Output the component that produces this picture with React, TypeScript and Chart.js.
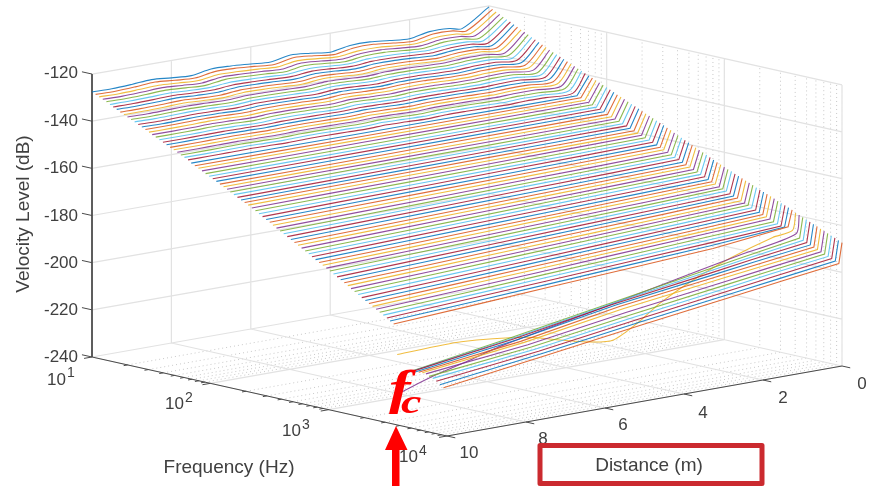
import React, { useEffect, useRef } from "react";
import Chart from "chart.js/auto";

const WIDTH = 871;
const HEIGHT = 486;

const LEVEL_TICKS = [-120, -140, -160, -180, -200, -220, -240];
const DISTANCE_TICKS = [0, 2, 4, 6, 8, 10];
const FREQ_DECADES = [1, 2, 3, 4];
const MINOR_FACTORS = [2, 3, 4, 5, 6, 7, 8, 9];
const COLORS = ["#0072BDd9", "#D95319d9", "#EDB120d9", "#7E2F8Ed9", "#77AC30d9", "#4DBEEEd9", "#A2142Fd9"];
const CURVE_COUNT = 100;

// Distance where each curve starts, at the far side (m)
const FAR_DISTANCE = [
  10,10,10,10,10,10,10.01,10.01,10.01,10.01,10.01,10.01,10.01,10.01,10.01,10.01,10.01,10.02,10.02,10.02,
  10.02,10.02,10.02,10.02,10.02,10.02,10.02,10.02,10.03,10.03,10.03,10.03,10.03,10.03,10.03,10.03,10.03,10.03,10.03,10.04,
  10.04,10.04,10.04,10.04,10.04,10.04,10.04,10.04,10.04,10.04,10.04,10.05,10.05,10.05,10.05,10.05,10.05,10.05,10.05,10.05,
  10.05,10.05,10.06,10.06,10.06,10.06,10.06,10.06,10.06,10.06,10.06,10.06,10.06,10.07,10.07,10.07,10.07,10.07,10.07,10.07,
  10.07,10.07,10.07,10.07,10.08,10.08,10.08,10.08,10.08,10.08,10.08,10.08,10.08,10.08,10.08,10.09,10.09,10.09,10.09,10.09,
];
// Distance where the near-field rise starts (m)
const KNEE_DISTANCE = [
  .68,.66,.64,.62,.6,.59,.57,.55,.53,.52,.5,.49,.48,.46,.45,.44,.43,.41,.4,.39,
  .38,.37,.36,.35,.34,.33,.32,.31,.3,.29,.28,.27,.27,.26,.26,.25,.25,.24,.24,.23,
  .23,.22,.22,.21,.21,.2,.2,.19,.19,.18,.18,.18,.17,.17,.17,.16,.16,.16,.15,.15,
  .15,.15,.14,.14,.14,.14,.13,.13,.13,.13,.13,.12,.12,.12,.12,.12,.11,.11,.11,.11,
  .11,.11,.1,.1,.1,.1,.08,.08,.08,.08,.08,.08,.08,.08,.08,.08,.08,.08,.08,.08,
];
const KNEE_LEVEL = [
  -127.7,-128.4,-129.2,-129.9,-130.7,-131.4,-132.2,-132.9,-133.7,-134.4,-135.2,-135.9,-136.7,-137.4,-138.2,-138.9,-139.7,-140.4,-141.2,-141.8,
  -142.5,-143.1,-143.8,-144.5,-145.1,-145.8,-146.4,-147.1,-147.9,-148.5,-149.2,-149.8,-150.5,-151.2,-151.8,-152.5,-153.3,-154,-154.6,-155.3,
  -156,-156.6,-157.3,-158,-158.7,-159.3,-160,-160.7,-161.3,-162.1,-162.8,-163.5,-164.3,-165,-165.7,-166.4,-167.2,-167.9,-168.6,-169.3,
  -170,-170.7,-171.4,-172.2,-172.9,-173.5,-174.3,-174.9,-175.5,-176.3,-176.9,-177.5,-178.3,-178.9,-179.5,-180.3,-180.9,-181.5,-182.2,-182.8,
  -183.4,-184.2,-184.8,-185.4,-185.5,-185,-186.3,-187.4,-188.9,-189.5,-190.1,-190.8,-191.4,-192.1,-192.7,-193.3,-194,-194.6,-195.3,-196,
];
// Level at distance 0
const TIP_LEVEL = [
  -120.4,-121.1,-121.9,-122.6,-123.4,-124.1,-124.8,-125.6,-126.3,-127.1,-127.8,-128.5,-129.3,-130,-130.8,-131.5,-132.2,-133,-133.7,-134.3,
  -135,-135.6,-136.3,-137,-137.6,-138.3,-138.9,-139.6,-140.3,-140.9,-141.6,-142.2,-142.9,-143.6,-144.2,-144.9,-145.6,-146.3,-146.9,-147.6,
  -148.3,-148.9,-149.6,-150.3,-151,-151.6,-152.3,-153,-153.6,-154.3,-155,-155.7,-156.5,-157.2,-157.9,-158.6,-159.3,-160,-160.7,-161.4,
  -162.1,-162.8,-163.5,-164.3,-165,-165.6,-166.3,-166.9,-167.5,-168.2,-168.8,-169.4,-170.1,-170.7,-171.3,-172,-172.6,-173.2,-173.8,-174.4,
  -175,-175.7,-176.3,-176.9,-177.5,-178.1,-179.1,-179.6,-180.3,-180.9,-181.5,-182.2,-182.8,-183.5,-184.1,-184.7,-185.4,-186,-186.7,-187.3,
];

// Curves 0-27: levels along these distances (first one replaced by FAR_DISTANCE)
const RIPPLE_DISTANCES = [10,9.5,9,8.5,8,7.5,7,6.5,6,5.5,5,4.5,4,3.5,3,2.5,2,1.5,1];
const RIPPLE_LEVELS = [
  [-127.6,-127.7,-127.3,-126.7,-127.4,-127.9,-126.5,-126.7,-127.3,-127.9,-126.4,-127.1,-128.1,-126.7,-126.6,-127.5,-128.2,-126.6,-126.7],
  [-128.3,-128.4,-128,-127.4,-128.1,-128.6,-127.3,-127.4,-128,-128.6,-127.1,-127.8,-128.8,-127.4,-127.3,-128.2,-128.9,-127.3,-127.4],
  [-129,-129.1,-128.8,-128.4,-128.9,-129.3,-128.2,-128.4,-128.8,-129.3,-128.1,-128.7,-129.4,-128.4,-128.3,-129,-129.5,-128.3,-128.4],
  [-129.7,-129.8,-129.5,-129.1,-129.6,-130,-128.9,-129.1,-129.5,-130,-128.8,-129.4,-130.1,-129.1,-129,-129.7,-130.2,-129,-129.1],
  [-130.4,-130.5,-130.2,-129.8,-130.3,-130.7,-129.6,-129.8,-130.2,-130.7,-129.5,-130.1,-130.8,-129.8,-129.7,-130.4,-130.9,-129.7,-129.8],
  [-131.2,-131.2,-131,-130.7,-131.1,-131.3,-130.6,-130.7,-131,-131.3,-130.5,-130.9,-131.4,-130.7,-130.7,-131.1,-131.5,-130.7,-130.7],
  [-131.9,-131.9,-131.7,-131.4,-131.8,-132,-131.3,-131.4,-131.7,-132,-131.2,-131.6,-132.1,-131.4,-131.4,-131.8,-132.2,-131.4,-131.4],
  [-132.6,-132.6,-132.4,-132.1,-132.5,-132.7,-132,-132.1,-132.4,-132.7,-131.9,-132.3,-132.8,-132.1,-132.1,-132.5,-132.9,-132.1,-132.1],
  [-133.4,-133.4,-133.2,-132.9,-133.3,-133.5,-132.8,-132.9,-133.2,-133.5,-132.7,-133.1,-133.6,-132.9,-132.9,-133.3,-133.7,-132.9,-132.9],
  [-134.1,-134.1,-133.9,-133.6,-134,-134.2,-133.5,-133.6,-133.9,-134.2,-133.4,-133.8,-134.3,-133.6,-133.6,-134,-134.4,-133.6,-133.6],
  [-134.8,-134.9,-134.7,-134.5,-134.7,-134.9,-134.4,-134.5,-134.7,-134.9,-134.3,-134.6,-135,-134.5,-134.5,-134.8,-135,-134.5,-134.5],
  [-135.5,-135.6,-135.4,-135.2,-135.4,-135.6,-135.1,-135.2,-135.4,-135.6,-135,-135.3,-135.7,-135.2,-135.2,-135.5,-135.7,-135.2,-135.2],
  [-136.2,-136.3,-136.1,-135.9,-136.1,-136.3,-135.8,-135.9,-136.1,-136.3,-135.7,-136,-136.4,-135.9,-135.9,-136.2,-136.4,-135.9,-135.9],
  [-137,-137.1,-136.9,-136.7,-136.9,-137.1,-136.6,-136.7,-136.9,-137.1,-136.5,-136.8,-137.2,-136.7,-136.7,-137,-137.2,-136.7,-136.7],
  [-137.7,-137.8,-137.6,-137.4,-137.6,-137.8,-137.3,-137.4,-137.6,-137.8,-137.2,-137.5,-137.9,-137.4,-137.4,-137.7,-137.9,-137.4,-137.4],
  [-138.4,-138.4,-138.3,-138.1,-138.3,-138.5,-138.1,-138.1,-138.3,-138.5,-138,-138.3,-138.5,-138.1,-138.1,-138.4,-138.5,-138.1,-138.1],
  [-139.2,-139.2,-139.1,-138.9,-139.1,-139.3,-138.9,-138.9,-139.1,-139.3,-138.8,-139.1,-139.3,-138.9,-138.9,-139.2,-139.3,-138.9,-138.9],
  [-139.9,-139.9,-139.8,-139.6,-139.8,-140,-139.6,-139.6,-139.8,-140,-139.5,-139.8,-140,-139.6,-139.6,-139.9,-140,-139.6,-139.6],
  [-140.6,-140.6,-140.5,-140.3,-140.5,-140.7,-140.3,-140.3,-140.5,-140.7,-140.2,-140.5,-140.7,-140.3,-140.3,-140.6,-140.7,-140.3,-140.3],
  [-141.4,-141.4,-141.3,-141.1,-141.3,-141.5,-141.1,-141.1,-141.3,-141.5,-141,-141.3,-141.5,-141.1,-141.1,-141.4,-141.5,-141.1,-141.1],
  [-142.1,-142.1,-142,-141.9,-142,-142.1,-141.9,-141.9,-142,-142.1,-141.8,-142,-142.2,-141.9,-141.9,-142,-142.2,-141.9,-141.9],
  [-142.8,-142.8,-142.7,-142.6,-142.7,-142.8,-142.6,-142.6,-142.7,-142.8,-142.5,-142.7,-142.9,-142.6,-142.6,-142.7,-142.9,-142.6,-142.6],
  [-143.6,-143.6,-143.5,-143.4,-143.5,-143.6,-143.4,-143.4,-143.5,-143.6,-143.3,-143.5,-143.7,-143.4,-143.4,-143.5,-143.7,-143.4,-143.4],
  [-144.3,-144.3,-144.2,-144.1,-144.2,-144.3,-144.1,-144.1,-144.2,-144.3,-144,-144.2,-144.4,-144.1,-144.1,-144.2,-144.4,-144.1,-144.1],
  [-145,-145,-144.9,-144.8,-144.9,-145,-144.8,-144.8,-144.9,-145,-144.7,-144.9,-145.1,-144.8,-144.8,-144.9,-145.1,-144.8,-144.8],
  [-145.8,-145.8,-145.7,-145.6,-145.7,-145.8,-145.6,-145.6,-145.7,-145.8,-145.5,-145.7,-145.9,-145.6,-145.6,-145.7,-145.9,-145.6,-145.6],
  [-146.5,-146.5,-146.4,-146.3,-146.4,-146.5,-146.3,-146.3,-146.4,-146.5,-146.2,-146.4,-146.6,-146.3,-146.3,-146.4,-146.6,-146.3,-146.3],
  [-147.2,-147.2,-147.1,-147,-147.1,-147.2,-147,-147,-147.1,-147.2,-146.9,-147.1,-147.3,-147,-147,-147.1,-147.3,-147,-147],
];

// Curves 28-85: levels at far wall, 8, 6, 4, 2 m
const PLAIN_DISTANCES = [10, 8, 6, 4, 2];
const PLAIN_LEVELS = [
  [-148.2,-148.1,-148.1,-148,-148],[-149,-148.9,-148.8,-148.7,-148.6],[-149.7,-149.6,-149.5,-149.4,-149.3],[-150.5,-150.4,-150.2,-150.1,-149.9],
  [-151.3,-151.1,-151,-150.8,-150.7],[-152.1,-151.9,-151.7,-151.6,-151.4],[-152.8,-152.6,-152.4,-152.2,-152],[-153.6,-153.4,-153.2,-153,-152.7],
  [-154.4,-154.2,-154,-153.7,-153.5],[-155.2,-154.9,-154.7,-154.5,-154.2],[-155.9,-155.6,-155.4,-155.1,-154.9],[-156.7,-156.4,-156.1,-155.9,-155.6],
  [-157.5,-157.2,-156.9,-156.6,-156.3],[-158.3,-158,-157.6,-157.3,-156.9],[-159.1,-158.7,-158.4,-158,-157.7],[-159.8,-159.4,-159.1,-158.7,-158.4],
  [-160.6,-160.2,-159.8,-159.5,-159.1],[-161.5,-161,-160.6,-160.2,-159.7],[-162.3,-161.8,-161.4,-160.9,-160.5],[-163.2,-162.7,-162.2,-161.7,-161.2],
  [-164.1,-163.5,-163,-162.4,-161.9],[-165,-164.4,-163.8,-163.3,-162.7],[-165.8,-165.2,-164.6,-164,-163.4],[-166.7,-166.1,-165.4,-164.8,-164.1],
  [-167.6,-166.9,-166.3,-165.6,-165],[-168.5,-167.8,-167.1,-166.4,-165.7],[-169.3,-168.6,-167.9,-167.1,-166.4],[-170.2,-169.4,-168.7,-167.9,-167.2],
  [-171.1,-170.3,-169.5,-168.8,-168],[-172,-171.2,-170.4,-169.5,-168.7],[-172.8,-172,-171.1,-170.3,-169.4],[-173.7,-172.8,-171.9,-171.1,-170.2],
  [-174.6,-173.7,-172.8,-171.8,-170.9],[-175.4,-174.5,-173.5,-172.6,-171.6],[-176.3,-175.3,-174.3,-173.4,-172.4],[-177.2,-176.2,-175.2,-174.2,-173.2],
  [-178.1,-177.1,-176,-175,-173.9],[-178.9,-177.9,-176.8,-175.6,-174.6],[-179.8,-178.7,-177.6,-176.5,-175.4],[-180.7,-179.5,-178.4,-177.2,-176.1],
  [-181.6,-180.4,-179.2,-178,-176.7],[-182.5,-181.2,-180,-178.7,-177.5],[-183.4,-182.1,-180.8,-179.5,-178.2],[-184.3,-183,-181.6,-180.2,-178.9],
  [-185.2,-183.8,-182.4,-181.1,-179.7],[-186.1,-184.7,-183.2,-181.8,-180.3],[-187,-185.5,-184,-182.5,-181],[-187.9,-186.4,-184.9,-183.3,-181.8],
  [-188.9,-187.3,-185.7,-184.1,-182.5],[-189.8,-188.2,-186.5,-184.8,-183.2],[-190.7,-189,-187.3,-185.6,-183.9],[-191.6,-189.8,-188.1,-186.3,-184.6],
  [-192.5,-190.7,-188.9,-187,-185.2],[-193.4,-191.6,-189.7,-187.9,-186],[-194.3,-192.4,-190.5,-188.6,-186.7],[-195.2,-193.2,-191.3,-189.3,-187.4],
  [-196.1,-194.1,-192.1,-190,-188],[-197,-194.9,-192.8,-190.8,-188.7],
];

// Curves 86 and 87 (just around the cut-off): their own distances and levels
const CURVE_86_DISTANCES = [10,8.46,6.78,5.94,5.11,4.61,4,3.43,2.6,1.66,.58];
const CURVE_86_LEVELS = [-209.6,-209,-212,-215.7,-219,-219.6,-214.2,-207.4,-200.1,-193.5,-187.8];
const CURVE_87_DISTANCES = [10,9.3,8.5,7.5,5,2.5,1.5];
const CURVE_87_LEVELS = [-225.3,-221,-217.5,-213,-204.5,-195.7,-192.3];

// Curves 88-99: levels at far wall, 7.5, 5, 2.5, 1.5 m
const CUTOFF_DISTANCES = [10, 7.5, 5, 2.5, 1.5];
const CUTOFF_LEVELS = [
  [-217,-210.1,-202.9,-195.7,-192.8],[-216.2,-209.7,-202.4,-195.8,-193.1],[-215.5,-209.3,-202,-195.9,-193.4],
  [-215.3,-209.3,-201.9,-196.2,-193.9],[-215.1,-209.6,-202.2,-196.7,-194.5],[-215,-209.7,-202.8,-197.3,-195.1],
  [-215.1,-210.4,-203.9,-198.2,-195.9],[-215.8,-211,-204.8,-198.9,-196.6],[-216.3,-211.6,-205.4,-199.6,-197.1],
  [-217.2,-212.1,-206,-200.2,-197.8],[-218.3,-212.7,-206.6,-200.9,-198.6],[-219.3,-213.2,-207.2,-201.5,-199.2],
];

// Projection of (log10 f, distance, level) into the picture
const CORNER = { back: [489, 287], right: [842, 366], left: [92, 357], front: [447, 436] };
function project(e: number, d: number, level: number) {
  const u = (e - 1) / 3;
  const v = d / 10;
  const bx = CORNER.back[0] + (CORNER.right[0] - CORNER.back[0]) * u;
  const by = CORNER.back[1] + (CORNER.right[1] - CORNER.back[1]) * u;
  const fx = CORNER.left[0] + (CORNER.front[0] - CORNER.left[0]) * u;
  const fy = CORNER.left[1] + (CORNER.front[1] - CORNER.left[1]) * u;
  return { x: bx + (fx - bx) * v, y: by + (fy - by) * v - (2.342 + 0.016 * v) * (level + 240) };
}

function curvePoints(i: number) {
  let ds: number[];
  let ls: number[];
  if (i < 28) { ds = RIPPLE_DISTANCES; ls = RIPPLE_LEVELS[i]; }
  else if (i < 86) { ds = PLAIN_DISTANCES; ls = PLAIN_LEVELS[i - 28]; }
  else if (i === 86) { ds = CURVE_86_DISTANCES; ls = CURVE_86_LEVELS; }
  else if (i === 87) { ds = CURVE_87_DISTANCES; ls = CURVE_87_LEVELS; }
  else { ds = CUTOFF_DISTANCES; ls = CUTOFF_LEVELS[i - 88]; }
  const e = 1 + (3 * i) / (CURVE_COUNT - 1);
  const pts = ds.map((d, k) => project(e, k === 0 ? FAR_DISTANCE[i] : d, ls[k]));
  pts.push(project(e, KNEE_DISTANCE[i], KNEE_LEVEL[i]));
  pts.push(project(e, 0, TIP_LEVEL[i]));
  return pts;
}

const GAP = { x: NaN, y: NaN };

function buildFrame() {
  const major: any[] = [];
  const minor: any[] = [];
  const axes: any[] = [];
  const zMin = LEVEL_TICKS[LEVEL_TICKS.length - 1];
  const zMax = LEVEL_TICKS[0];
  LEVEL_TICKS.forEach((z) => major.push(project(1, 10, z), project(1, 0, z), project(4, 0, z), GAP));
  DISTANCE_TICKS.forEach((d) => {
    major.push(project(1, d, zMin), project(1, d, zMax), GAP);
    major.push(project(1, d, zMin), project(4, d, zMin), GAP);
  });
  FREQ_DECADES.forEach((e) => {
    major.push(project(e, 0, zMin), project(e, 0, zMax), GAP);
    major.push(project(e, 0, zMin), project(e, 10, zMin), GAP);
  });
  FREQ_DECADES.slice(0, 3).forEach((e) => {
    MINOR_FACTORS.forEach((m) => {
      const x = e + Math.log10(m);
      minor.push(project(x, 10, zMin), project(x, 0, zMin), project(x, 0, zMax), GAP);
      axes.push(project(x, 10, zMin), project(x, 10.1, zMin), GAP);
    });
  });
  axes.push(project(1, 10, zMax), project(1, 10, zMin), project(4, 10, zMin), project(4, 0, zMin), GAP);
  LEVEL_TICKS.forEach((z) => axes.push(project(1, 10, z), project(0.915, 10, z), GAP));
  FREQ_DECADES.forEach((e) => axes.push(project(e, 10, zMin), project(e, 10.2, zMin), GAP));
  DISTANCE_TICKS.forEach((d) => axes.push(project(4, d, zMin), project(4.07, d, zMin), GAP));
  return { major, minor, axes };
}

const SANS = '"Liberation Sans", Arial, sans-serif';
const INK = "#404040";
const LEVEL_LABEL_Y = [73, 121, 168, 216, 263, 310, 357];
const FREQ_LABELS = [
  { base: "10", exp: "1", x: 47, y: 380, ex: 67, ey: 373 },
  { base: "10", exp: "2", x: 165, y: 404, ex: 185, ey: 398 },
  { base: "10", exp: "3", x: 282, y: 431, ex: 302, ey: 425 },
  { base: "10", exp: "4", x: 399, y: 457, ex: 419, ey: 451 },
];
const DISTANCE_LABELS = [
  { t: "0", x: 862, y: 384 }, { t: "2", x: 783, y: 398 }, { t: "4", x: 703, y: 413 },
  { t: "6", x: 623, y: 425 }, { t: "8", x: 543, y: 439 }, { t: "10", x: 469, y: 453 },
];

const overlay = {
  id: "overlay",
  afterDraw(chart: any) {
    const c = chart.ctx;
    c.save();
    c.fillStyle = INK;
    c.textBaseline = "middle";
    c.font = `17px ${SANS}`;
    c.textAlign = "right";
    LEVEL_TICKS.forEach((v, i) => c.fillText(String(v), 78, LEVEL_LABEL_Y[i]));
    c.textAlign = "left";
    FREQ_LABELS.forEach((l) => {
      c.font = `17px ${SANS}`;
      c.fillText(l.base, l.x, l.y);
      c.font = `14px ${SANS}`;
      c.fillText(l.exp, l.ex, l.ey);
    });
    c.font = `17px ${SANS}`;
    c.textAlign = "center";
    DISTANCE_LABELS.forEach((l) => c.fillText(l.t, l.x, l.y));
    c.font = `19px ${SANS}`;
    c.fillText("Frequency (Hz)", 229, 468);
    c.fillText("Distance (m)", 649, 466);
    c.save();
    c.translate(24, 214);
    c.rotate(-Math.PI / 2);
    c.fillText("Velocity Level (dB)", 0, 0);
    c.restore();

    // Red box
    c.strokeStyle = "#CB2A2F";
    c.lineWidth = 5;
    c.lineJoin = "round";
    c.strokeRect(540, 445.5, 222, 38);

    // Red arrow
    c.fillStyle = "#FF0000";
    c.beginPath();
    c.moveTo(396, 426);
    c.lineTo(407.5, 450);
    c.lineTo(399.5, 450);
    c.lineTo(399.5, 486);
    c.lineTo(392, 486);
    c.lineTo(392, 450);
    c.lineTo(385, 450);
    c.closePath();
    c.fill();

    // f_c
    c.textAlign = "left";
    c.textBaseline = "alphabetic";
    c.save();
    c.translate(389, 404);
    c.scale(1.35, 1);
    c.font = `italic bold 48px "Liberation Serif", serif`;
    c.fillText("f", 0, 0);
    c.restore();
    c.save();
    c.translate(401, 413);
    c.scale(1.35, 1);
    c.font = `italic bold 34px "Liberation Serif", serif`;
    c.fillText("c", 0, 0);
    c.restore();
    c.restore();
  },
};

export default function App() {
  const ref = useRef<HTMLCanvasElement | null>(null);
  useEffect(() => {
    if (!ref.current) return;
    const frame = buildFrame();
    const base = { showLine: true, pointRadius: 0, pointHoverRadius: 0, clip: false, spanGaps: false };
    const datasets: any[] = [
      { ...base, label: "minor", data: frame.minor, borderColor: "#c8c8c8", borderWidth: 1, borderDash: [1, 3], order: 1003 },
      { ...base, label: "major", data: frame.major, borderColor: "#e2e2e2", borderWidth: 1.2, order: 1002 },
      { ...base, label: "axes", data: frame.axes, borderColor: "#4a4a4a", borderWidth: 1, order: 1001 },
    ];
    for (let i = 0; i < CURVE_COUNT; i++) {
      datasets.push({
        ...base,
        label: `curve ${i}`,
        data: curvePoints(i),
        borderColor: COLORS[i % COLORS.length],
        borderWidth: 1.1,
        tension: i < 28 ? 0.3 : i === 86 || i === 87 ? 0.25 : 0,
        order: CURVE_COUNT - i,
      });
    }
    const chart = new Chart(ref.current, {
      type: "scatter",
      data: { datasets },
      options: {
        animation: false,
        responsive: false,
        events: [],
        layout: { padding: 0 },
        scales: {
          x: { type: "linear", display: false, min: 0, max: WIDTH },
          y: { type: "linear", display: false, min: 0, max: HEIGHT, reverse: true },
        },
        plugins: { legend: { display: false }, tooltip: { enabled: false } },
      },
      plugins: [overlay],
    } as any);
    return () => chart.destroy();
  }, []);
  return (
    <div style={{ position: "fixed", left: 0, top: 0, width: WIDTH, height: HEIGHT, background: "#fff", overflow: "hidden" }}>
      <canvas ref={ref} width={WIDTH} height={HEIGHT} style={{ display: "block", filter: "blur(0.4px)" }} />
    </div>
  );
}
